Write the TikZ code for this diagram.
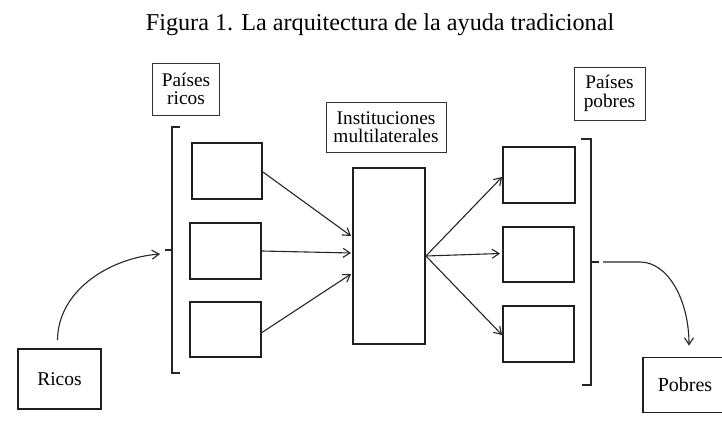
\documentclass[tikz,border=0pt]{standalone}
\usepackage{fontspec}
\setmainfont{Liberation Serif}
\usetikzlibrary{arrows.meta,calc}
\tikzset{
  frame/.style={draw=black!88, line width=1.9pt, minimum width=71pt, minimum height=56pt, inner sep=0pt},
  lbl/.style={draw=black!80, line width=0.9pt, inner sep=0pt, align=center, font=\fontsize{19.3}{18.5}\selectfont},
  arr/.style={draw=black!85, line width=1.1pt, -{Straight Barb[length=7pt,width=9pt,line width=1.1pt]}},
  brk/.style={draw=black!85, line width=1.4pt},
}
\begin{document}
\begin{tikzpicture}[x=1pt,y=-1pt]
\useasboundingbox (0,0) rectangle (722,420);
\clip (0,0) rectangle (722,420);
\fill[white] (0,0) rectangle (722,420);
% title
\node[font=\fontsize{24.2}{28}\selectfont, anchor=base] (title) at (380,31) {Figura 1. La arquitectura de la ayuda tradicional};
% labels
\node[lbl, minimum width=67pt, minimum height=52pt] (pr) at (186,89) {Países\\ricos};
\node[lbl, minimum width=120pt, minimum height=50pt] (inst) at (386,127) {Instituciones\\multilaterales};
\node[lbl, minimum width=71pt, minimum height=53pt] (pp) at (609.5,93.5) {Países\\pobres};
% left boxes
\node[frame, minimum width=70pt] (L1) at (227,171) {};
\node[frame] (L2) at (225.5,251) {};
\node[frame, minimum height=55pt] (L3) at (225.5,329.5) {};
% center
\node[frame, minimum width=72pt, minimum height=176pt] (C) at (389,256) {};
% right boxes
\node[frame, minimum width=72pt] (R1) at (539,175) {};
\node[frame, minimum height=55pt] (R2) at (538.5,254.5) {};
\node[frame] (R3) at (538.5,334) {};
% ricos / pobres
\node[frame, line width=1.7pt, minimum width=83pt, minimum height=60pt, font=\fontsize{19.5}{22}\selectfont] (ricos) at (59.5,379) {Ricos};
\node[frame, line width=1.7pt, minimum width=84pt, minimum height=55pt, font=\fontsize{20}{22}\selectfont] (pobres) at (685,385) {Pobres};
% brackets
\coordinate (lt) at (180,127);
\coordinate (lb) at (180,373);
\coordinate (lm) at (172,250);
\coordinate (ltip) at (165,250);
\draw[brk] (lt) -- (172,127) -- (172,373) -- (lb);
\draw[brk] (lm) -- (ltip);
\coordinate (rt) at (581,139);
\coordinate (rb) at (582,385);
\coordinate (rm) at (591,262);
\coordinate (rtip) at (599,262);
\coordinate (rstart) at (603,262);
\draw[brk] (rt) -- (591,139) -- (591,385) -- (rb);
\draw[brk] (rm) -- (rtip);
% connectors
\coordinate (rend) at (160,254);
\draw[arr] ($(ricos.north)+(-2,-8)$) .. controls (58,290) and (110,258) .. (rend);
\draw[arr] (rstart) -- (640,262) .. controls (668,262) and (689,300) .. ($(pobres.north)+(4,-11)$);
\draw[arr] ($(L1.east)+(0,1)$) -- ($(C.west)+(-1,-20)$);
\draw[arr] (L2.east) -- ($(C.west)+(-1,-3)$);
\draw[arr] ($(L3.east)+(0,3)$) -- ($(C.west)+(-1,18)$);
\draw[arr] (C.east) -- ($(R1.west)+(0,2)$);
\draw[arr] (C.east) -- ($(R2.west)+(-2,-1)$);
\draw[arr] (C.east) -- ($(R3.west)+(0,1)$);
\end{tikzpicture}
\end{document}
